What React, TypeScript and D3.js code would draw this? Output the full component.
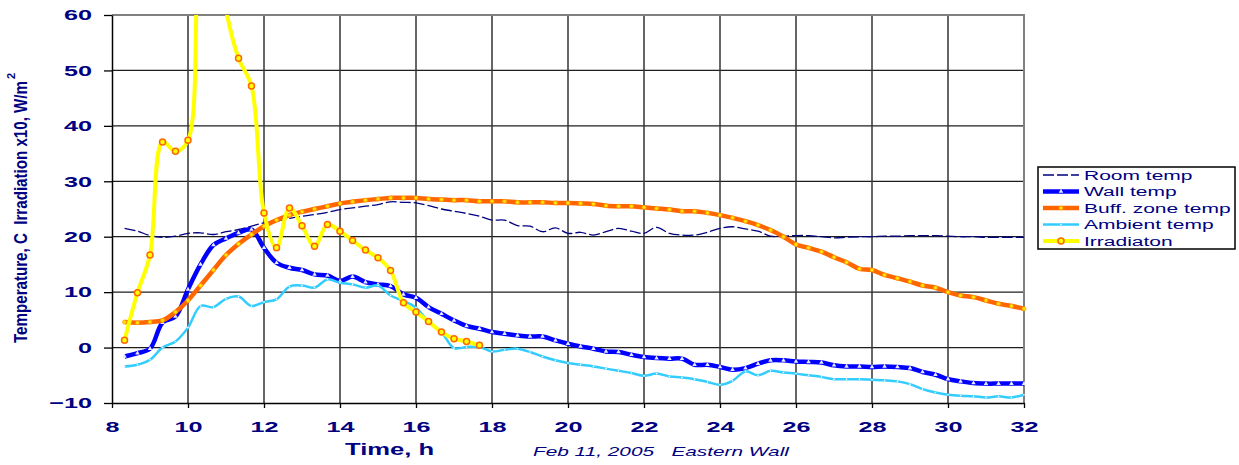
import React, { useEffect, useRef } from "react";
import * as d3 from "d3";

// time of day, h (20 min logging interval)
const hours = [
  8.33, 8.67, 9, 9.33, 9.67, 10, 10.33, 10.67, 11, 11.33, 11.67, 12, 12.33, 12.67, 13, 13.33,
  13.67, 14, 14.33, 14.67, 15, 15.33, 15.67, 16, 16.33, 16.67, 17, 17.33, 17.67, 18, 18.33,
  18.67, 19, 19.33, 19.67, 20, 20.33, 20.67, 21, 21.33, 21.67, 22, 22.33, 22.67, 23, 23.33,
  23.67, 24, 24.33, 24.67, 25, 25.33, 25.67, 26, 26.33, 26.67, 27, 27.33, 27.67, 28, 28.33,
  28.67, 29, 29.33, 29.67, 30, 30.33, 30.67, 31, 31.33, 31.67, 32,
];

const roomTemp = [
  21.5, 21.0, 20.2, 19.9, 20.1, 20.6, 20.7, 20.4, 20.9, 21.3, 21.9, 22.5, 22.8, 23.3, 23.7, 24.0,
  24.4, 24.9, 25.2, 25.5, 25.8, 26.3, 26.2, 26.1, 25.6, 25.0, 24.6, 24.2, 23.7, 23.0, 23.0,
  22.0, 21.9, 20.9, 21.6, 20.6, 20.8, 20.3, 20.9, 21.5, 21.0, 20.6, 21.7, 20.6, 20.3, 20.3,
  20.8, 21.5, 21.8, 21.4, 21.0, 20.1, 20.1, 20.2, 20.2, 20.0, 19.8, 19.9, 20.0, 20.0, 20.1,
  20.1, 20.2, 20.2, 20.2, 20.1, 20.0, 20.0, 19.9, 19.9, 19.9, 19.9,
];

const wallTemp = [
  -1.6, -1.0, -0.2, 4.5, 5.6, 10.5, 15.0, 18.5, 19.7, 20.7, 21.3, 18.0, 15.3, 14.4, 14.0, 13.2,
  13.0, 12.0, 12.8, 11.8, 11.4, 11.1, 9.6, 9.0, 7.3, 6.1, 4.9, 3.9, 3.4, 2.8, 2.5,
  2.2, 2.0, 2.0, 1.3, 0.7, 0.2, -0.2, -0.7, -0.8, -1.3, -1.7, -1.9, -2.0, -2.0, -3.1,
  -3.1, -3.5, -4.0, -3.7, -2.9, -2.3, -2.3, -2.5, -2.6, -2.7, -3.2, -3.4, -3.4, -3.5, -3.4,
  -3.5, -3.7, -4.4, -4.9, -5.7, -6.1, -6.4, -6.5, -6.5, -6.5, -6.5,
];

const buffTemp = [
  4.6, 4.5, 4.6, 4.9, 6.4, 8.5, 11.2, 14.0, 16.7, 18.7, 20.4, 21.9, 23.0, 23.9, 24.5, 25.0,
  25.5, 26.0, 26.3, 26.6, 26.8, 27.0, 27.0, 27.0, 26.8, 26.7, 26.6, 26.6, 26.4, 26.4, 26.4,
  26.2, 26.2, 26.2, 26.1, 26.1, 26.0, 25.9, 25.6, 25.5, 25.5, 25.3, 25.1, 24.9, 24.6, 24.6,
  24.3, 23.9, 23.4, 22.8, 22.1, 21.2, 20.0, 18.6, 18.0, 17.3, 16.3, 15.4, 14.2, 14.0, 13.1,
  12.5, 11.9, 11.2, 10.8, 10.0, 9.4, 9.1, 8.5, 7.9, 7.5, 7.0,
];

const ambientTemp = [
  -3.4, -3.1, -2.2, 0.0, 1.1, 3.6, 7.5, 7.3, 8.8, 9.2, 7.5, 8.2, 8.7, 11.0, 11.2, 10.8,
  12.3, 11.7, 11.4, 10.8, 11.2, 9.4, 8.4, 7.2, 4.6, 2.8, -0.1, 0.1, 0.1, -0.7, -0.4,
  -0.2, -0.8, -1.6, -2.3, -2.8, -3.1, -3.4, -3.8, -4.2, -4.6, -5.1, -4.7, -5.2, -5.4, -5.7,
  -6.2, -6.7, -6.0, -4.3, -5.0, -4.2, -4.5, -4.7, -5.0, -5.3, -5.7, -5.7, -5.7, -5.8, -5.9,
  -6.1, -6.6, -7.5, -8.1, -8.5, -8.7, -8.8, -9.0, -8.8, -9.0, -8.5,
];

// irradiation x 10, W/m2 - logged only until sunset
const irradiation = [
  1.3, 9.9, 16.7, 37.1, 35.4, 37.4, 72, 78, 61, 52.2, 47.2, 24.3, 18.0, 25.2, 22.0, 18.3,
  22.2, 21.0, 19.3, 17.6, 16.2, 13.9, 8.1, 6.4, 4.7, 2.8, 1.6, 1.1, 0.4,
];

const xTicks = [8, 10, 12, 14, 16, 18, 20, 22, 24, 26, 28, 30, 32];
const yTicks = [-10, 0, 10, 20, 30, 40, 50, 60];

const legendLabels = ["Room temp", "Wall temp", "Buff. zone temp", "Ambient temp", "Irradiaton"];

const NAVY = "#000080";
const STRETCH = 1.65;

const App = () => {
  const svgRef = useRef<SVGSVGElement>(null);

  useEffect(() => {
    const svg = d3.select(svgRef.current);
    svg.selectAll("*").remove();

    const margin = { top: 15, right: 215, bottom: 62, left: 112 };
    const W = 1239;
    const H = 465;
    const width = W - margin.left - margin.right;
    const height = H - margin.top - margin.bottom;

    const x = d3.scaleLinear().domain([8, 32]).range([0, width]);
    const y = d3.scaleLinear().domain([-10, 60]).range([height, 0]);

    // stretch text horizontally like the original export
    const widen = (sel: any, k = STRETCH) =>
      sel.each(function (this: SVGTextElement) {
        const w = this.getComputedTextLength();
        this.setAttribute("textLength", String(w * k));
        this.setAttribute("lengthAdjust", "spacingAndGlyphs");
      });

    const g = svg.append("g").attr("transform", `translate(${margin.left},${margin.top})`);

    g.append("clipPath")
      .attr("id", "plot-clip")
      .append("rect")
      .attr("x", -10)
      .attr("y", 0)
      .attr("width", width + 20)
      .attr("height", height);

    // grid
    g.append("g")
      .selectAll("line")
      .data(yTicks.filter((d) => d > -10))
      .enter()
      .append("line")
      .attr("x1", 0)
      .attr("x2", width)
      .attr("y1", (d) => y(d))
      .attr("y2", (d) => y(d))
      .attr("stroke", "#1e1e1e")
      .attr("stroke-width", 1.3);

    g.append("g")
      .selectAll("line")
      .data(xTicks.filter((d) => d > 8 && d < 32))
      .enter()
      .append("line")
      .attr("x1", (d) => x(d))
      .attr("x2", (d) => x(d))
      .attr("y1", 0)
      .attr("y2", height)
      .attr("stroke", "#333")
      .attr("stroke-width", 1.5);

    // plot border top / right
    g.append("path")
      .attr("d", `M0,0H${width}V${height}`)
      .attr("fill", "none")
      .attr("stroke", "#808080")
      .attr("stroke-width", 2);

    // axes
    const xAxis = g
      .append("g")
      .attr("transform", `translate(0,${height})`)
      .call(d3.axisBottom(x).tickValues(xTicks).tickSize(5).tickSizeOuter(0).tickPadding(13));
    const yAxis = g
      .append("g")
      .call(d3.axisLeft(y).tickValues(yTicks).tickSize(8).tickSizeOuter(0).tickPadding(12));

    [xAxis, yAxis].forEach((a) => {
      a.select(".domain").attr("stroke", "#000").attr("stroke-width", 1.5);
      a.selectAll(".tick line").attr("stroke", "#000").attr("stroke-width", 1.3);
      a.selectAll(".tick text")
        .attr("fill", NAVY)
        .attr("font-family", "Liberation Sans, Arial, sans-serif")
        .attr("font-weight", "bold")
        .attr("font-size", 15);
      widen(a.selectAll(".tick text"), 1.68);
    });

    // series
    const line = d3
      .line<[number, number]>()
      .x((d) => x(d[0]))
      .y((d) => y(d[1]))
      .curve(d3.curveCatmullRom.alpha(0.5));

    const pts = (vals: number[]) => vals.map((v, i) => [hours[i], v] as [number, number]);

    const plot = g.append("g").attr("clip-path", "url(#plot-clip)");

    // Room temp
    plot
      .append("path")
      .attr("d", line(pts(roomTemp)))
      .attr("fill", "none")
      .attr("stroke", NAVY)
      .attr("stroke-width", 1.3)
      .attr("stroke-dasharray", "11,3");

    // Wall temp
    plot
      .append("path")
      .attr("d", line(pts(wallTemp)))
      .attr("fill", "none")
      .attr("stroke", "#0000FF")
      .attr("stroke-width", 4.5)
      .attr("stroke-linejoin", "round");
    const tri = d3.symbol().type(d3.symbolTriangle).size(9);
    plot
      .append("g")
      .selectAll("path")
      .data(pts(wallTemp))
      .enter()
      .append("path")
      .attr("d", tri)
      .attr("transform", (d) => `translate(${x(d[0])},${y(d[1])})`)
      .attr("fill", "#e8e8ff");

    // Buff zone temp
    plot
      .append("path")
      .attr("d", line(pts(buffTemp)))
      .attr("fill", "none")
      .attr("stroke", "#FF6600")
      .attr("stroke-width", 4.5)
      .attr("stroke-linejoin", "round");
    plot
      .append("g")
      .selectAll("circle")
      .data(pts(buffTemp))
      .enter()
      .append("circle")
      .attr("cx", (d) => x(d[0]))
      .attr("cy", (d) => y(d[1]))
      .attr("r", 2)
      .attr("fill", "#FFE600")
      .attr("stroke", "#FF9900")
      .attr("stroke-width", 0.8);

    // Ambient temp
    plot
      .append("path")
      .attr("d", line(pts(ambientTemp)))
      .attr("fill", "none")
      .attr("stroke", "#33CCFF")
      .attr("stroke-width", 2.5);
    plot
      .append("g")
      .selectAll("circle")
      .data(pts(ambientTemp))
      .enter()
      .append("circle")
      .attr("cx", (d) => x(d[0]))
      .attr("cy", (d) => y(d[1]))
      .attr("r", 0.8)
      .attr("fill", "#fff");

    // Irradiation
    plot
      .append("path")
      .attr("d", line(pts(irradiation)))
      .attr("fill", "none")
      .attr("stroke", "#FFFF00")
      .attr("stroke-width", 4);
    plot
      .append("g")
      .selectAll("circle")
      .data(pts(irradiation))
      .enter()
      .append("circle")
      .attr("cx", (d) => x(d[0]))
      .attr("cy", (d) => y(d[1]))
      .attr("r", 3)
      .attr("fill", "#FFFF00")
      .attr("stroke", "#FF6600")
      .attr("stroke-width", 1.5);

    // axis titles
    widen(
      svg
        .append("text")
        .attr("x", 345)
        .attr("y", 455)
        .attr("fill", NAVY)
        .attr("font-family", "Liberation Sans, Arial, sans-serif")
        .attr("font-weight", "bold")
        .attr("font-size", 16)
        .text("Time, h"),
      1.6
    );
    widen(
      svg
        .append("text")
        .attr("x", 533)
        .attr("y", 456)
        .attr("fill", NAVY)
        .attr("font-family", "Liberation Sans, Arial, sans-serif")
        .attr("font-style", "italic")
        .attr("font-size", 13)
        .style("white-space", "pre")
        .text("Feb 11, 2005   Eastern Wall"),
      1.6
    );

    const yTitle = svg
      .append("g")
      .attr("transform", "translate(27,343) rotate(-90)")
      .attr("fill", NAVY)
      .attr("font-family", "Liberation Sans, Arial, sans-serif")
      .attr("font-weight", "bold");
    yTitle
      .append("text")
      .attr("x", 0)
      .attr("y", 0)
      .attr("font-size", 18)
      .attr("textLength", 262)
      .attr("lengthAdjust", "spacingAndGlyphs")
      .style("white-space", "pre")
      .text("Temperature, C  Irradiation x10, W/m");
    yTitle
      .append("text")
      .attr("x", 264)
      .attr("y", -12)
      .attr("font-size", 11)
      .text("2");

    // legend
    const lg = svg.append("g").attr("transform", "translate(1038,167)");
    lg.append("rect")
      .attr("width", 197)
      .attr("height", 82)
      .attr("fill", "#fff")
      .attr("stroke", "#000")
      .attr("stroke-width", 1.5);
    const rows = lg
      .selectAll("g.row")
      .data(legendLabels)
      .enter()
      .append("g")
      .attr("class", "row")
      .attr("transform", (d, i) => `translate(0,${8 + i * 16.5})`);

    const sw = [
      { c: NAVY, w: 1.3, dash: "11,3" },
      { c: "#0000FF", w: 4.5, dash: null },
      { c: "#FF6600", w: 4.5, dash: null },
      { c: "#33CCFF", w: 2.5, dash: null },
      { c: "#FFFF00", w: 4, dash: null },
    ];
    rows
      .append("line")
      .attr("x1", 5)
      .attr("x2", 41)
      .attr("stroke", (d, i) => sw[i].c)
      .attr("stroke-width", (d, i) => sw[i].w)
      .attr("stroke-dasharray", (d, i) => sw[i].dash);
    rows
      .filter((d, i) => i === 1)
      .append("path")
      .attr("d", tri)
      .attr("transform", "translate(23,0)")
      .attr("fill", "#e8e8ff");
    rows
      .filter((d, i) => i === 2)
      .append("circle")
      .attr("cx", 23)
      .attr("r", 2)
      .attr("fill", "#FFE600")
      .attr("stroke", "#FF9900")
      .attr("stroke-width", 0.8);
    rows
      .filter((d, i) => i === 3)
      .append("circle")
      .attr("cx", 23)
      .attr("r", 0.8)
      .attr("fill", "#fff");
    rows
      .filter((d, i) => i === 4)
      .append("circle")
      .attr("cx", 23)
      .attr("r", 3)
      .attr("fill", "#FFFF00")
      .attr("stroke", "#FF6600")
      .attr("stroke-width", 1.5);
    widen(
      rows
        .append("text")
        .attr("x", 46)
        .attr("y", 4.5)
        .attr("fill", NAVY)
        .attr("font-family", "Liberation Sans, Arial, sans-serif")
        .attr("font-size", 12.5)
        .text((d) => d),
      1.68
    );
  }, []);

  return (
    <svg
      ref={svgRef}
      width={1239}
      height={465}
      style={{ position: "absolute", left: 0, top: 0, background: "#fff" }}
    ></svg>
  );
};

export default App;
